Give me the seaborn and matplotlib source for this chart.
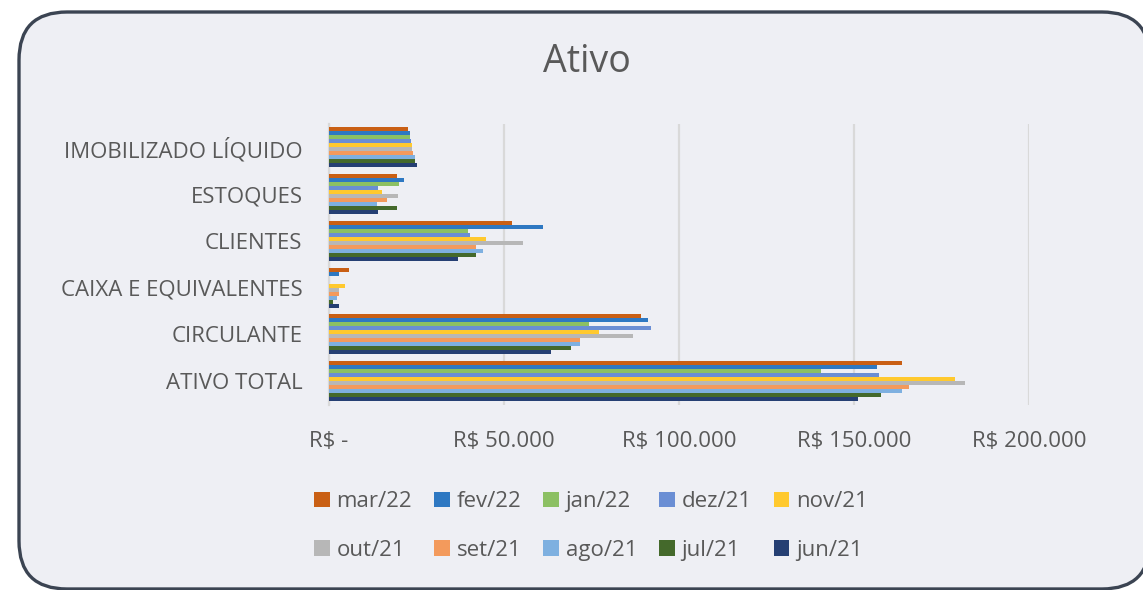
import matplotlib
matplotlib.use("Agg")
import matplotlib.pyplot as plt
from matplotlib.patches import FancyBboxPatch, Patch
from matplotlib.ticker import FuncFormatter
import seaborn as sns
import pandas as pd

categories = ["IMOBILIZADO LÍQUIDO", "ESTOQUES", "CLIENTES",
              "CAIXA E EQUIVALENTES", "CIRCULANTE", "ATIVO TOTAL"]
months = ["mar/22", "fev/22", "jan/22", "dez/21", "nov/21",
          "out/21", "set/21", "ago/21", "jul/21", "jun/21"]

# values in R$ per category (order of `categories`)
mar22 = [22500, 19300, 52300, 5800, 89000, 163700]
fev22 = [23000, 21300, 61200, 2800, 91100, 156500]
jan22 = [23000, 20100, 39800, 0, 74300, 140600]
dez21 = [23300, 14100, 40200, 0, 92000, 157000]
nov21 = [23700, 15000, 44800, 4500, 77100, 178800]
out21 = [23800, 19600, 55300, 2800, 86800, 181800]
set21 = [24100, 16700, 41900, 2800, 71700, 165800]
ago21 = [24500, 13800, 44000, 2300, 71700, 163700]
jul21 = [24600, 19300, 41900, 1200, 69200, 157800]
jun21 = [25100, 14100, 36800, 2800, 63300, 151100]

series = [mar22, fev22, jan22, dez21, nov21, out21, set21, ago21, jul21, jun21]
colors = ["#C95F14", "#2E78C2", "#8CC063", "#6A8ED4", "#FFC92E",
          "#B7B7B7", "#F39A5C", "#7EB0E0", "#44692B", "#253F73"]

rows = []
for m, vals in zip(months, series):
    for c, v in zip(categories, vals):
        rows.append({"Categoria": c, "Mes": m, "Valor": v})
df = pd.DataFrame(rows)

plt.rcParams["font.family"] = ["Open Sans", "DejaVu Sans"]
TXT = "#595959"
BG = "#EEEFF4"
FS = 16

W, H = 1143, 590
fig = plt.figure(figsize=(W / 100, H / 100), dpi=100)
fig.patch.set_facecolor("white")

# rounded chart border
box = FancyBboxPatch((19 / W, 1 - 589 / H), (1150 - 19) / W, (589 - 12) / H,
                     boxstyle="round,pad=0,rounding_size=0.042",
                     transform=fig.transFigure, facecolor=BG,
                     edgecolor="#3B4452", linewidth=2.4, zorder=-5,
                     mutation_aspect=W / H)
fig.patches.append(box)

ax = fig.add_axes([329 / W, 1 - 404.5 / H, 700 / W, 280.5 / H])
ax.set_facecolor("none")
ax.set_zorder(2)

sns.barplot(data=df, y="Categoria", x="Valor", hue="Mes",
            order=categories, hue_order=months, palette=colors,
            orient="h", width=0.86, linewidth=0, errorbar=None,
            saturation=1, ax=ax, legend=False, zorder=3)

ax.set_xlim(0, 200000)
ax.set_xticks([0, 50000, 100000, 150000, 200000])
ax.xaxis.set_major_formatter(FuncFormatter(
    lambda v, p: "R$ -" if v == 0 else "R$ " + f"{int(v):,}".replace(",", ".")))
ax.grid(axis="x", color="#D9D9D9", linewidth=1.6, zorder=0)
ax.grid(axis="y", visible=False)
ax.set_axisbelow(True)
for s in ["top", "right", "bottom"]:
    ax.spines[s].set_visible(False)
ax.spines["left"].set_color("#D9D9D9")
ax.spines["left"].set_linewidth(1.6)
ax.set_xlabel("")
ax.set_ylabel("")
ax.tick_params(axis="x", length=0, pad=19, labelsize=FS, labelcolor=TXT)
ax.tick_params(axis="y", length=0, pad=19, labelsize=FS, labelcolor=TXT)

fig.text(587 / W, 1 - 62 / H, "Ativo", ha="center", va="center",
         fontsize=27, color=TXT)

handles = [Patch(facecolor=c, edgecolor="none") for c in colors]
order = [0, 5, 1, 6, 2, 7, 3, 8, 4, 9]
leg = fig.legend([handles[i] for i in order], [months[i] for i in order],
                 ncol=5, loc="center", bbox_to_anchor=(591 / W, 1 - 526 / H),
                 frameon=False, fontsize=FS, labelcolor=TXT,
                 handlelength=0.7, handleheight=0.7, handletextpad=0.3,
                 columnspacing=1.0, labelspacing=1.25)

fig.savefig("out.png", dpi=100, facecolor="white")
